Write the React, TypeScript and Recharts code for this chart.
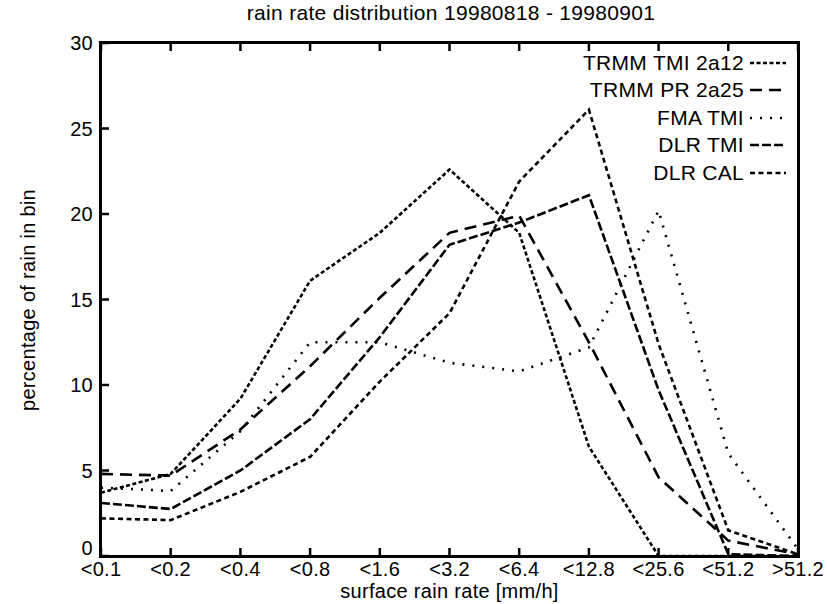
import React from "react";
import { LineChart, Line, XAxis, YAxis } from "recharts";

// rain rate bins (x axis)
const bins = ["<0.1", "<0.2", "<0.4", "<0.8", "<1.6", "<3.2", "<6.4", "<12.8", "<25.6", "<51.2", ">51.2"];

// percentage of rain in each bin
const trmmTmi2a12 = [3.7, 4.8, 9.2, 16.1, 18.9, 22.6, 18.9, 6.4, 0, 0, 0];
const trmmPr2a25 = [4.8, 4.7, 7.4, 11.1, 15.1, 18.9, 19.9, 12.5, 4.6, 0.9, 0.1];
const fmaTmi = [4.0, 3.8, 7.3, 12.5, 12.5, 11.3, 10.8, 12.2, 20.2, 6.0, 0.4];
const dlrTmi = [3.1, 2.75, 5.0, 8.0, 12.8, 18.2, 19.5, 21.1, 9.7, 0.1, 0];
const dlrCal = [2.2, 2.1, 3.75, 5.8, 10.2, 14.2, 21.9, 26.1, 12.4, 1.5, 0.1];

const yTicks = [0, 5, 10, 15, 20, 25, 30];

const FONT = "'Liberation Sans', Arial, Helvetica, sans-serif";
const FS = 21;
const TICK_FS = 20;
const TICK_LEN = 8;

const series = [
  { key: "tmi2a12", name: "TRMM TMI 2a12", values: trmmTmi2a12, dash: "4 2.5" },
  { key: "pr2a25", name: "TRMM PR 2a25", values: trmmPr2a25, dash: "12 7" },
  { key: "fma", name: "FMA TMI", values: fmaTmi, dash: "2 8" },
  { key: "dlrTmi", name: "DLR TMI", values: dlrTmi, dash: "9 3" },
  { key: "dlrCal", name: "DLR CAL", values: dlrCal, dash: "5 3.5" },
];

const data = bins.map((bin, i) => {
  const row: Record<string, string | number> = { bin };
  series.forEach((s) => { row[s.key] = s.values[i]; });
  return row;
});

// gnuplot style ticks: marks point into the plot, labels sit outside
const BottomTick = (props: any) => {
  const { x, y, payload } = props;
  return (
    <g>
      <line x1={x} y1={y} x2={x} y2={y - TICK_LEN} stroke="#000" strokeWidth={2.5} />
      <text x={x} y={y + 20} textAnchor="middle" fontSize={TICK_FS} fontFamily={FONT} fill="#000" letterSpacing={0.3}>
        {payload.value}
      </text>
    </g>
  );
};

const TopTick = (props: any) => {
  const { x, y } = props;
  return <line x1={x} y1={y} x2={x} y2={y + TICK_LEN} stroke="#000" strokeWidth={2.5} />;
};

const LeftTick = (props: any) => {
  const { x, y, payload } = props;
  const shift = payload.value === 0 ? -8 : 0;
  return (
    <g>
      <line x1={x} y1={y} x2={x + TICK_LEN} y2={y} stroke="#000" strokeWidth={2.5} />
      <text x={x - 8} y={y + shift} dy="0.36em" textAnchor="end" fontSize={TICK_FS} fontFamily={FONT} fill="#000" letterSpacing={0.3}>
        {payload.value}
      </text>
    </g>
  );
};

const RightTick = (props: any) => {
  const { x, y } = props;
  return <line x1={x} y1={y} x2={x - TICK_LEN} y2={y} stroke="#000" strokeWidth={2.5} />;
};

export default function App() {
  return (
    <div style={{ position: "absolute", left: 0, top: 0, width: 827, height: 604, background: "#fff", fontFamily: FONT }}>
      <div style={{ position: "absolute", left: 0, width: 827, top: 1, paddingLeft: 75, boxSizing: "border-box", textAlign: "center", fontSize: FS, letterSpacing: 0.3 }}>
        rain rate distribution 19980818 - 19980901
      </div>

      <LineChart width={827} height={604} data={data} margin={{ top: 42, right: 28, bottom: 18, left: 41 }}>
        <XAxis
          dataKey="bin"
          xAxisId="bottom"
          height={30}
          interval={0}
          tick={<BottomTick />}
          tickSize={0}
          tickMargin={0}
          axisLine={false}
          tickLine={false}
        />
        <XAxis
          dataKey="bin"
          xAxisId="top"
          orientation="top"
          height={1}
          interval={0}
          tick={<TopTick />}
          tickSize={0}
          tickMargin={0}
          axisLine={false}
          tickLine={false}
        />
        <YAxis
          yAxisId="left"
          width={60}
          domain={[0, 30]}
          ticks={yTicks}
          tick={<LeftTick />}
          tickSize={0}
          tickMargin={0}
          axisLine={false}
          tickLine={false}
        />
        <YAxis
          yAxisId="right"
          orientation="right"
          width={1}
          domain={[0, 30]}
          ticks={yTicks}
          tick={<RightTick />}
          tickSize={0}
          tickMargin={0}
          axisLine={false}
          tickLine={false}
        />
        {series.map((s) => (
          <Line
            key={s.key}
            xAxisId="bottom"
            yAxisId="left"
            type="linear"
            dataKey={s.key}
            name={s.name}
            stroke="#000"
            strokeWidth={2.6}
            strokeDasharray={s.dash}
            dot={false}
            activeDot={false}
            isAnimationActive={false}
          />
        ))}
      </LineChart>

      {/* plot frame */}
      <div
        style={{
          position: "absolute",
          left: 99,
          top: 41,
          width: 701,
          height: 517,
          boxSizing: "border-box",
          border: "3px solid #000",
          pointerEvents: "none",
        }}
      />

      {/* legend, top right inside the frame */}
      <div style={{ position: "absolute", right: 827 - 786, top: 49 }}>
        {series.map((s) => (
          <div key={s.key} style={{ display: "flex", alignItems: "center", justifyContent: "flex-end", height: 27.5, fontSize: FS, letterSpacing: 0.3 }}>
            <span>{s.name}</span>
            <svg width={36} height={10} style={{ marginLeft: 6 }}>
              <line x1={0} y1={5} x2={36} y2={5} stroke="#000" strokeWidth={2.6} strokeDasharray={s.dash} />
            </svg>
          </div>
        ))}
      </div>

      <div style={{ position: "absolute", left: 101, width: 697, top: 580, textAlign: "center", fontSize: TICK_FS, lineHeight: "22px", letterSpacing: 0.3 }}>
        surface rain rate [mm/h]
      </div>
      <div
        style={{
          position: "absolute",
          left: 28,
          top: 300,
          transform: "translate(-50%, -50%) rotate(-90deg)",
          whiteSpace: "nowrap",
          fontSize: TICK_FS,
          letterSpacing: 0.3,
        }}
      >
        percentage of rain in bin
      </div>
    </div>
  );
}
